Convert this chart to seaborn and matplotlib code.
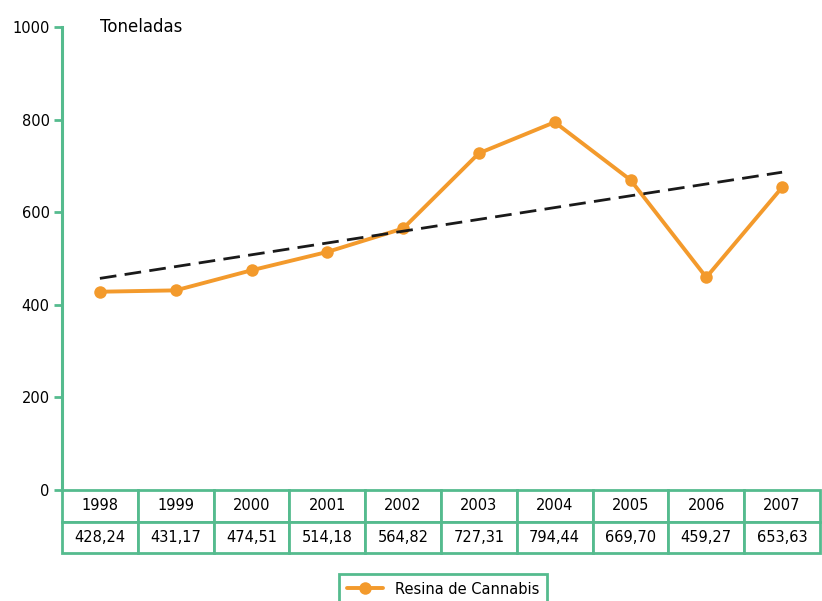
import numpy as np
import pandas as pd
import matplotlib
matplotlib.use("Agg")
import matplotlib.pyplot as plt
import seaborn as sns

years = ["1998", "1999", "2000", "2001", "2002", "2003", "2004", "2005", "2006", "2007"]
values = [428.24, 431.17, 474.51, 514.18, 564.82, 727.31, 794.44, 669.70, 459.27, 653.63]
value_labels = ["428,24", "431,17", "474,51", "514,18", "564,82", "727,31", "794,44", "669,70", "459,27", "653,63"]
yticks = [0, 200, 400, 600, 800, 1000]
series_name = "Resina de Cannabis"
unit_label = "Toneladas"

sns.set_style("white")
plt.rcParams['font.family'] = ['DejaVu Sans']
plt.rcParams['text.color'] = 'black'
plt.rcParams['ytick.labelcolor'] = 'black'

GREEN = "#55bb8e"
ORANGE = "#f39a2c"

fig = plt.figure(figsize=(8.22, 6.01), dpi=100)
W, H = 822, 601
left, right, top, bottom = 62, 820, 27, 490
ax = fig.add_axes([left / W, 1 - bottom / H, (right - left) / W, (bottom - top) / H])

df = pd.DataFrame({"idx": np.arange(len(years)), "value": values, "serie": series_name})
sns.lineplot(data=df, x="idx", y="value", ax=ax, color=ORANGE, linewidth=2.8,
             marker="o", markersize=9, markeredgewidth=0, label=series_name)

# trend line (linear fit)
coef = np.polyfit(df["idx"], df["value"], 1)
xt = np.array([0, len(years) - 1])
ax.plot(xt, np.polyval(coef, xt), color="#1a1a1a", linestyle=(0, (6, 3)), linewidth=2)

ax.set_xlim(-0.5, len(years) - 0.5)
ax.set_ylim(0, 1000)
ax.set_yticks(yticks)
ax.set_yticklabels([str(t) for t in yticks], fontsize=10.5, color="black")
ax.set_xticks([])
ax.set_xlabel("")
ax.set_ylabel("")
for s in ["top", "right", "bottom"]:
    ax.spines[s].set_visible(False)
ax.spines["left"].set_color(GREEN)
ax.spines["left"].set_linewidth(2.2)
ax.tick_params(axis="y", which="both", left=True, length=6, width=2, color=GREEN, pad=3)
ax.text(0.05, 1.0, unit_label, transform=ax.transAxes, fontsize=12, va="center", ha="left", color="black")

# data table below
tbl_h = (553 - 490) / (bottom - top)
table = ax.table(cellText=[years, value_labels], cellLoc="center",
                 bbox=[0, -tbl_h, 1, tbl_h])
table.auto_set_font_size(False)
table.set_fontsize(10.5)
for cell in table.get_celld().values():
    cell.set_edgecolor(GREEN)
    cell.set_linewidth(2)
    cell.get_text().set_color("black")

leg = ax.legend(loc="upper center", bbox_to_anchor=(443 / W, 1 - 567 / H),
                bbox_transform=fig.transFigure, frameon=True, fontsize=10.5,
                fancybox=False, framealpha=1, handlelength=2.5, borderpad=0.5)
leg.get_frame().set_edgecolor(GREEN)
leg.get_frame().set_linewidth(2)
for t in leg.get_texts():
    t.set_color("black")

fig.savefig("out.png", dpi=100)
